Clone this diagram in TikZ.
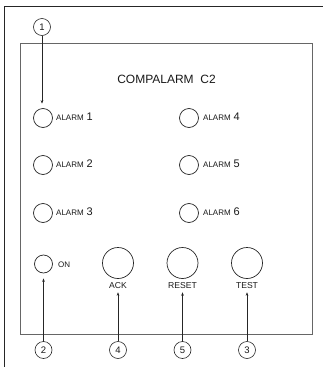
\documentclass[tikz,border=0pt]{standalone}
\usepackage{fontspec}
\setmainfont{Liberation Sans}
\usetikzlibrary{arrows.meta}
\begin{document}
\begin{tikzpicture}[x=1pt,y=-1pt,
  lamp/.style={circle,draw=black!85,line width=0.7pt,inner sep=0pt,minimum size=19pt},
  button/.style={circle,draw=black!85,line width=0.7pt,inner sep=0pt,minimum size=31pt},
  callout/.style={circle,draw=black!85,line width=0.6pt,inner sep=0pt,minimum size=17pt,font=\fontsize{9.5}{9.5}\selectfont,text=black!90},
  lbl/.style={inner sep=0pt,text=black!90},
  btnlbl/.style={inner sep=1pt,text=black!90,font=\fontsize{8.6}{8.6}\selectfont},
  pointer/.style={line width=0.55pt,draw=black!85,-{Stealth[length=3.5pt,width=2.6pt]}}
]
\useasboundingbox (0,0) rectangle (323,367);
% outer frame
\draw[line width=1.1pt,black!85] (323,6.5) -- (4.5,6.5) -- (4.5,367);
% inner panel
\draw[line width=0.7pt,black!60] (20,43) rectangle (312,334);
% title
\node[lbl,font=\fontsize{12}{12}\selectfont] (title) at (166.5,79) {COMPALARM\ \ C2};
% alarm lamps
\newcommand{\alarmtext}[1]{{\fontsize{8}{8}\selectfont ALARM} {\fontsize{11}{11}\selectfont #1}}
\node[lamp] (a1) at (43,118) {};
\node[lamp] (a2) at (43,165) {};
\node[lamp] (a3) at (43,213) {};
\node[lamp] (a4) at (189,118) {};
\node[lamp] (a5) at (189,165) {};
\node[lamp] (a6) at (189,213) {};
\node[lbl,anchor=base west] (l1) at (56,120) {\alarmtext{1}};
\node[lbl,anchor=base west] (l2) at (56,167) {\alarmtext{2}};
\node[lbl,anchor=base west] (l3) at (56,215) {\alarmtext{3}};
\node[lbl,anchor=base west] (l4) at (203,120) {\alarmtext{4}};
\node[lbl,anchor=base west] (l5) at (203,167) {\alarmtext{5}};
\node[lbl,anchor=base west] (l6) at (203,215) {\alarmtext{6}};
% on lamp
\node[lamp,minimum size=18pt] (on) at (43.5,264) {};
\node[lbl,anchor=base west,font=\fontsize{8}{8}\selectfont] (onl) at (58,267) {ON};
% buttons
\node[button] (ack) at (118,263) {};
\node[button] (reset) at (182.5,263) {};
\node[button] (test) at (247,263) {};
\node[btnlbl] (ackl) at (118,286) {ACK};
\node[btnlbl] (resetl) at (182.5,286) {RESET};
\node[btnlbl] (testl) at (247,286) {TEST};
% callouts
\node[callout] (n1) at (42,27) {1};
\node[callout] (n2) at (43.5,350) {2};
\node[callout] (n4) at (118,350) {4};
\node[callout] (n5) at (182.5,350) {5};
\node[callout] (n3) at (247,350) {3};
% pointers
\draw[pointer,shorten >=4.5pt] (n1.south) -- (a1.north -| n1);
\draw[pointer,shorten >=5pt] (n2.north) -- (on.south);
\draw[pointer,shorten >=2pt] (n4.north) -- (ackl.south);
\draw[pointer,shorten >=2pt] (n5.north) -- (resetl.south);
\draw[pointer,shorten >=2pt] (n3.north) -- (testl.south);
\end{tikzpicture}
\end{document}
